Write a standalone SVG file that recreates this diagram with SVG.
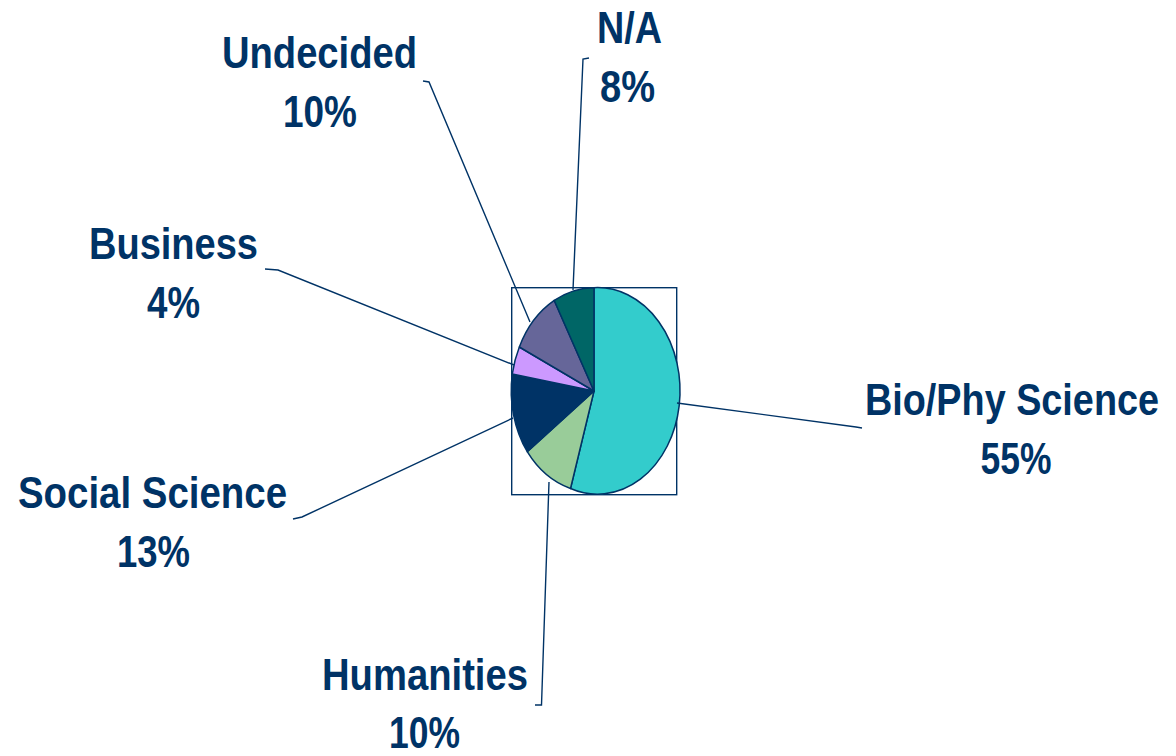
<svg xmlns="http://www.w3.org/2000/svg" width="1176" height="756" viewBox="0 0 1176 756">
<style>
.lbl{font-family:"Liberation Sans Narrow","Liberation Sans",Arial,sans-serif;font-weight:bold;font-size:44px;fill:#003366;text-anchor:middle}
.sl{stroke:#003366;stroke-width:1.5;stroke-linejoin:round}
.ld{fill:none;stroke:#003366;stroke-width:1.4}
</style>
<rect width="1176" height="756" fill="#ffffff"/>
<rect x="511.7" y="287.7" width="165" height="207" fill="none" stroke="#003366" stroke-width="1.4"/>
<g id="pie">
<path id="s-bio" class="sl" fill="#33CCCC" d="M594,391 L594,287.7 A82.5,103.3 0 1 1 570.5,488.5 Z"/>
<path id="s-hum" class="sl" fill="#99CC99" d="M594,391 L570.5,488.5 A82.5,103.3 0 0 1 527.26,451.72 Z"/>
<path id="s-soc" class="sl" fill="#003366" d="M594,391 L527.26,451.72 A82.5,103.3 0 0 1 512.3,374 Z"/>
<path id="s-bus" class="sl" fill="#CC99FF" d="M594,391 L512.3,374 A82.5,103.3 0 0 1 519.35,347.02 Z"/>
<path id="s-und" class="sl" fill="#666699" d="M594,391 L519.35,347.02 A82.5,103.3 0 0 1 554.26,300.48 Z"/>
<path id="s-na" class="sl" fill="#006666" d="M594,391 L554.26,300.48 A82.5,103.3 0 0 1 594,287.7 Z"/>
</g>
<g id="connectors">
<polyline class="ld" points="423,81 429,82 530,322"/>
<polyline class="ld" points="589,58 583,59 573,290"/>
<polyline class="ld" points="265,269 278,270 514,365"/>
<polyline class="ld" points="293,519 302,517 513,418"/>
<polyline class="ld" points="549,482 541.5,705 535,705"/>
<polyline class="ld" points="677,403 856,427 862,428"/>
</g>
<g id="label-undecided">
<text class="lbl" x="319.5" y="68" textLength="195" lengthAdjust="spacingAndGlyphs">Undecided</text>
<text class="lbl" x="320" y="127" textLength="74" lengthAdjust="spacingAndGlyphs">10%</text>
</g>
<g id="label-na">
<text class="lbl" x="629.5" y="43" textLength="65" lengthAdjust="spacingAndGlyphs">N/A</text>
<text class="lbl" x="627.5" y="102" textLength="55" lengthAdjust="spacingAndGlyphs">8%</text>
</g>
<g id="label-business">
<text class="lbl" x="173.5" y="259" textLength="169" lengthAdjust="spacingAndGlyphs">Business</text>
<text class="lbl" x="173.5" y="318" textLength="53" lengthAdjust="spacingAndGlyphs">4%</text>
</g>
<g id="label-social">
<text class="lbl" x="152.5" y="508" textLength="269" lengthAdjust="spacingAndGlyphs">Social Science</text>
<text class="lbl" x="153.5" y="567" textLength="73" lengthAdjust="spacingAndGlyphs">13%</text>
</g>
<g id="label-humanities">
<text class="lbl" x="425" y="690" textLength="206" lengthAdjust="spacingAndGlyphs">Humanities</text>
<text class="lbl" x="424.5" y="748" textLength="71" lengthAdjust="spacingAndGlyphs">10%</text>
</g>
<g id="label-bio">
<text class="lbl" x="1012" y="415" textLength="294" lengthAdjust="spacingAndGlyphs">Bio/Phy Science</text>
<text class="lbl" x="1016" y="474" textLength="71" lengthAdjust="spacingAndGlyphs">55%</text>
</g>
</svg>
